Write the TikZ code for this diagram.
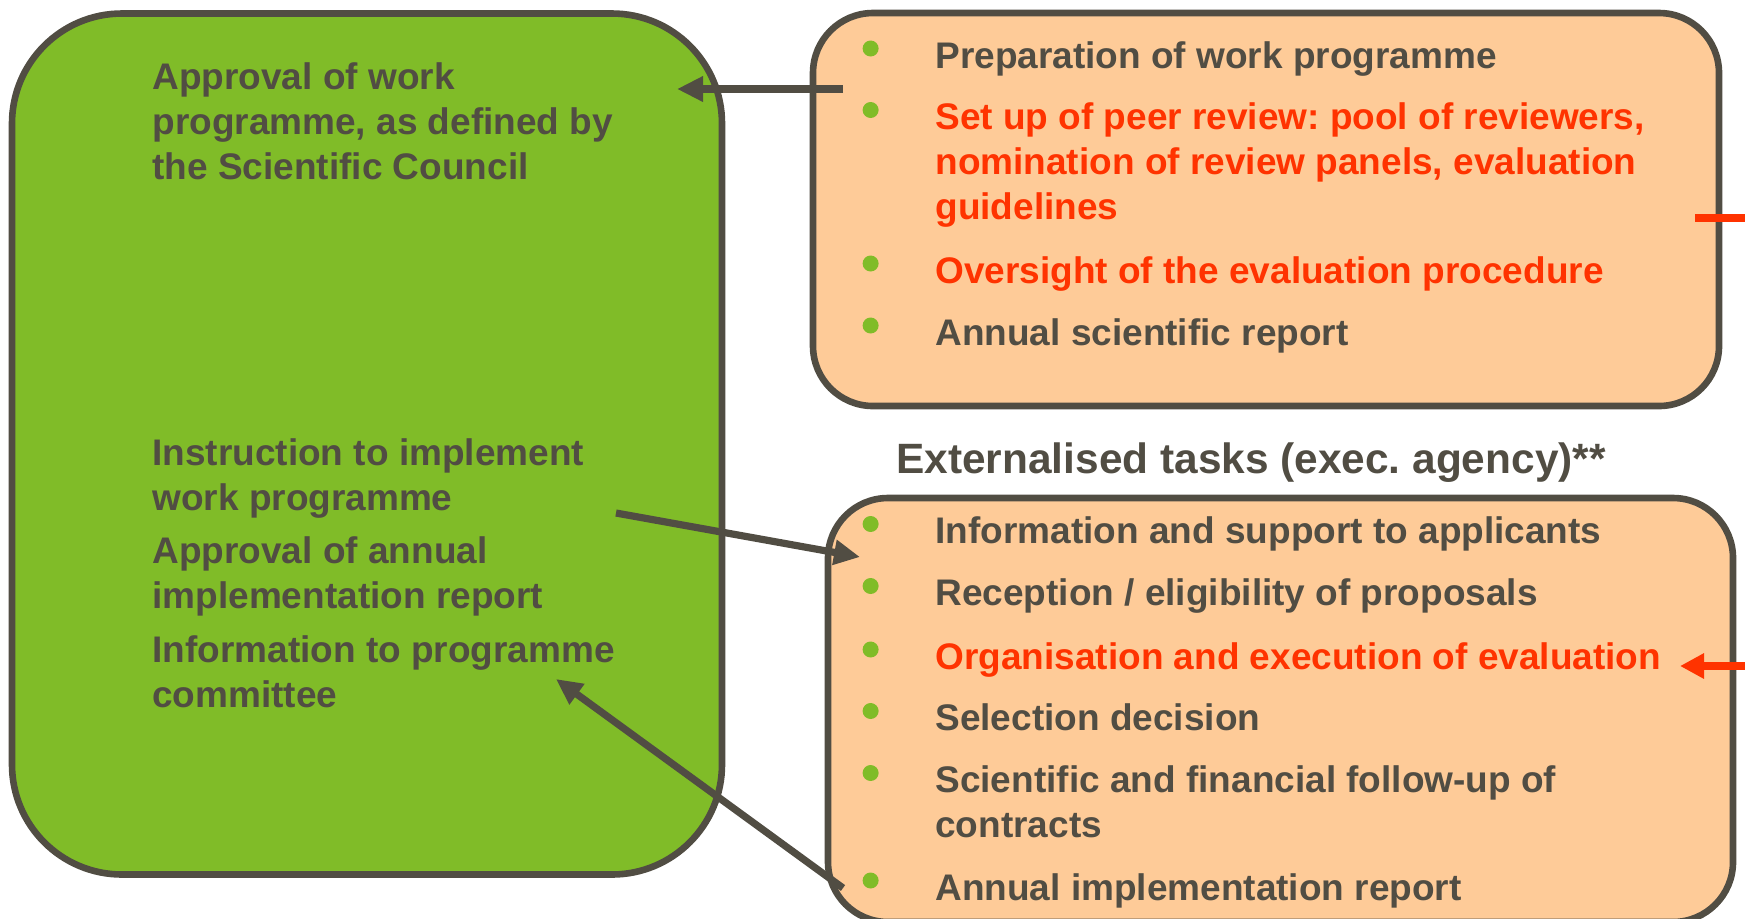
\documentclass[tikz,border=0pt]{standalone}
\usepackage{fontspec}
\setmainfont{Liberation Sans}
\usetikzlibrary{arrows.meta,positioning}
\definecolor{leaf}{HTML}{80BC28}
\definecolor{peach}{HTML}{FECB98}
\definecolor{slate}{HTML}{514D43}
\definecolor{alert}{HTML}{FF3300}
\frenchspacing
% lines of one entry, baseline on the first line
\newcommand{\linesof}[1]{\begin{tabular}[t]{@{}l@{}}#1\end{tabular}}
\tikzset{
    %Define style for boxes
    council-box/.style={
           rectangle,
           rounded corners=55pt,
           draw=slate, line width=3.3pt,
           fill=leaf,
           inner sep=0pt,
           minimum width=355pt,
           minimum height=430.5pt},
    task-box/.style={
           rectangle,
           rounded corners=30pt,
           draw=slate, line width=3.3pt,
           fill=peach,
           inner sep=0pt},
    %Define style for texts
    entry/.style={
           anchor=base west,
           inner sep=0pt,
           text=slate,
           font=\bfseries\fontsize{18.5pt}{22.5pt}\selectfont},
    hot/.style={text=alert},
    marker/.style={
           circle, fill=leaf,
           inner sep=0pt, minimum size=8pt,
           left=28pt of #1.base west, yshift=9.75pt},
    % Define arrow style
    pil/.style={
           -{Triangle[length=13pt,width=12pt]},
           line width=3.6pt,
           draw=slate},
    redpil/.style={
           line width=4pt,
           draw=alert}
}
\begin{document}
\begin{tikzpicture}[x=0.5pt, y=-0.5pt]
 \useasboundingbox (0,0) rectangle (1745,918);
 \clip (0,0) rectangle (1745,918);

 \node[council-box] (council) at (367,444) {};
 \node[task-box, minimum width=453pt, minimum height=196.5pt] (programme) at (1266,209.5) {};
 \node[task-box, minimum width=452.5pt, minimum height=212pt] (agency) at (1280.5,710) {};

 % council tasks
 \node[entry] (approve) at (152,89) {\linesof{Approval of work\\programme, as defined by\\the Scientific Council}};
 \node[entry] (instruct) at (152,465.5) {\linesof{Instruction to implement\\work programme}};
 \node[entry] (annual) at (152,563.5) {\linesof{Approval of annual\\implementation report}};
 \node[entry] (inform) at (152,662.5) {\linesof{Information to programme\\committee}};

 % tasks kept in house
 \node[entry] (prep) at (935,68) {Preparation of work programme};
 \node[entry, hot] (peer) at (935,129.5) {\linesof{Set up of peer review: pool of reviewers,\\nomination of review panels, evaluation\\guidelines}};
 \node[entry, hot] (oversight) at (935,283) {Oversight of the evaluation procedure};
 \node[entry] (scireport) at (935,345) {Annual scientific report};
 \node[marker=prep] (b-prep) {};
 \node[marker=peer] (b-peer) {};
 \node[marker=oversight] (b-oversight) {};
 \node[marker=scireport] (b-scireport) {};

 \node[entry, font=\bfseries\fontsize{21.2pt}{26pt}\selectfont] (externalised) at (896,473) {Externalised tasks (exec. agency)**};

 % externalised tasks
 \node[entry] (applicants) at (935,543.5) {Information and support to applicants};
 \node[entry] (reception) at (935,605.5) {Reception / eligibility of proposals};
 \node[entry, hot] (organise) at (935,669) {Organisation and execution of evaluation};
 \node[entry] (selection) at (935,730.5) {Selection decision};
 \node[entry] (followup) at (935,792.5) {\linesof{Scientific and financial follow-up of\\contracts}};
 \node[entry] (implreport) at (935,900) {Annual implementation report};
 \node[marker=applicants] (b-applicants) {};
 \node[marker=reception] (b-reception) {};
 \node[marker=organise] (b-organise) {};
 \node[marker=selection] (b-selection) {};
 \node[marker=followup] (b-followup) {};
 \node[marker=implreport] (b-implreport) {};

 % connectors
 \coordinate (prog-tail) at (843,89);
 \coordinate (council-tip) at (677,89);
 \coordinate (instruct-tail) at (616,513);
 \coordinate (agency-tip) at (860,557);
 \coordinate (agency-tail) at (843,888);
 \coordinate (inform-tip) at (556,679);
 \coordinate (peer-tail) at (1695,218);
 \coordinate (peer-out) at (1790,218);
 \coordinate (organise-in) at (1790,666);
 \coordinate (organise-tip) at (1680,666);

 \draw[pil] (prog-tail) -- (council-tip);
 \draw[pil] (instruct-tail) -- (agency-tip);
 \draw[pil] (agency-tail) -- (inform-tip);
 \draw[redpil] (peer-tail) -- (peer-out);
 \draw[redpil, -{Triangle[length=12pt,width=12pt]}] (organise-in) -- (organise-tip);

\end{tikzpicture}
\end{document}
